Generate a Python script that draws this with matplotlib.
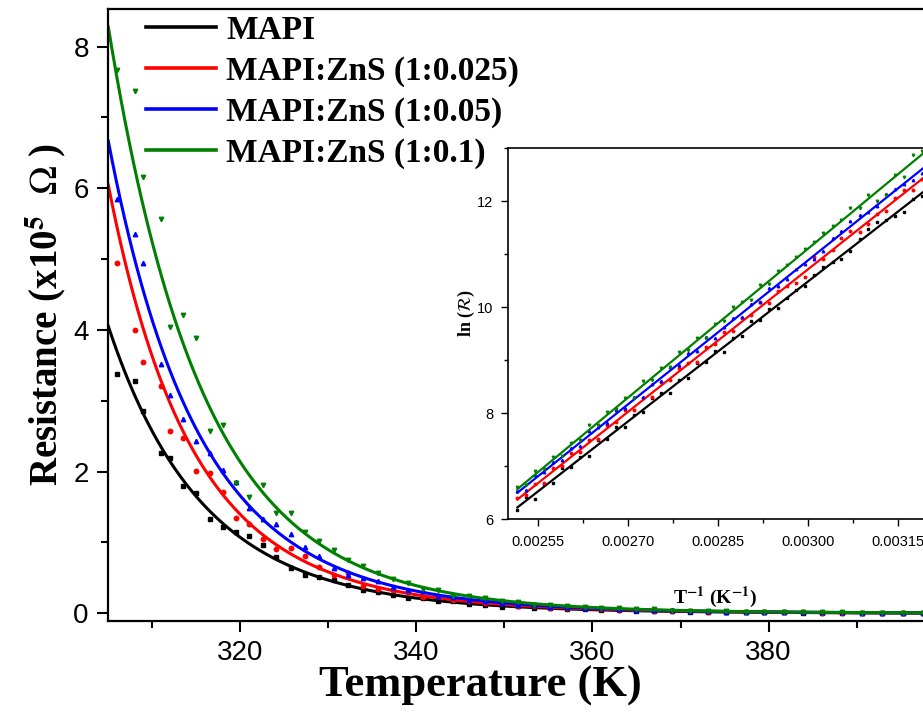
import numpy as np
import matplotlib
matplotlib.use("Agg")
import matplotlib.pyplot as plt
from matplotlib.ticker import MultipleLocator
from numpy.polynomial import Polynomial

plt.rcParams['mathtext.fontset'] = 'stix'

# temperatures of the measurements (K); 305 K only anchors the fitted curves
temps = [305, 306, 308, 309, 311, 312, 313.5, 315, 316.5, 318, 319.5, 321, 322.6,
         324.1, 325.7, 327.3, 328.9, 330.6, 332.2, 333.9, 335.6, 337.3, 339.0,
         340.7, 342.5, 344.2, 346.0, 347.8, 349.7, 351.5, 353.4, 355.2, 357.1,
         359.1, 361.0, 363.0, 365.0, 367.0, 369.0, 371.1, 373.1, 375.2, 377.4,
         379.5, 381.7, 383.9, 386.1, 388.3, 390.6, 392.9, 395.3, 397.6]

# ln(R / ohm) for each sample
ln_mapi = [12.94, 12.73, 12.70, 12.56, 12.33, 12.30, 12.10, 12.04, 11.80, 11.71,
           11.65, 11.60, 11.47, 11.28, 11.06, 10.90, 10.85, 10.76, 10.60, 10.40,
           10.32, 10.17, 9.99, 9.97, 9.75, 9.73, 9.45, 9.41, 9.16, 9.18, 8.97,
           8.94, 8.67, 8.63, 8.39, 8.38, 8.29, 8.02, 7.96, 7.74, 7.74, 7.52, 7.50,
           7.20, 7.17, 6.98, 6.97, 6.69, 6.66, 6.38, 6.42, 6.18]
ln_zns025 = [13.78, 13.11, 12.90, 12.78, 12.68, 12.46, 12.42, 12.21, 12.20, 12.05,
             11.81, 11.75, 11.56, 11.41, 11.43, 11.30, 11.08, 10.90, 10.95, 10.57,
             10.46, 10.40, 10.31, 10.07, 10.09, 9.85, 9.79, 9.55, 9.54, 9.30, 9.24,
             8.97, 8.95, 8.86, 8.62, 8.58, 8.30, 8.28, 8.06, 8.07, 7.83, 7.77, 7.51,
             7.49, 7.26, 7.25, 7.01, 6.97, 6.68, 6.66, 6.46, 6.40]
ln_zns05 = [13.45, 13.28, 13.19, 13.11, 12.77, 12.64, 12.52, 12.40, 12.33, 12.22,
            12.13, 11.91, 11.80, 11.74, 11.62, 11.44, 11.30, 11.06, 10.90, 10.82,
            10.72, 10.53, 10.39, 10.36, 10.09, 10.06, 9.81, 9.80, 9.63, 9.41, 9.43,
            9.17, 9.13, 8.91, 8.88, 8.60, 8.56, 8.30, 8.31, 8.09, 8.06, 7.81, 7.74,
            7.66, 7.39, 7.35, 7.11, 7.09, 6.89, 6.83, 6.55, 6.54]
ln_zns1 = [13.35, 13.55, 13.51, 13.33, 13.23, 12.91, 12.95, 12.87, 12.46, 12.49,
           12.12, 12.01, 12.11, 11.86, 11.86, 11.65, 11.53, 11.40, 11.22, 11.10,
           10.95, 10.80, 10.68, 10.44, 10.42, 10.13, 10.09, 10.01, 9.73, 9.68,
           9.42, 9.42, 9.20, 9.15, 8.88, 8.85, 8.63, 8.60, 8.29, 8.28, 8.08, 8.03,
           7.77, 7.77, 7.50, 7.43, 7.19, 7.18, 6.95, 6.92, 6.65, 6.61]

labels = ['MAPI', 'MAPI:ZnS (1:0.025)', 'MAPI:ZnS (1:0.05)', 'MAPI:ZnS (1:0.1)']
colors = ['black', '#ff0000', '#0000ff', '#008000']
markers = ['s', 'o', '^', 'v']
series = [ln_mapi, ln_zns025, ln_zns05, ln_zns1]

serif = 'Liberation Serif'
sans = 'Liberation Sans'

T = np.array(temps)
invT = 1.0 / T
shown = T > 305

fig = plt.figure(figsize=(9.23, 7.17), dpi=100)
ax = fig.add_axes([0.1173, 0.1343, 0.888, 0.8531])

Tfine = np.linspace(T.min(), 398.1, 400)
handles = []
for lnr, c, m, lab in zip(series, colors, markers, labels):
    y = np.array(lnr)
    R = np.exp(y) / 1e5
    ax.plot(T[shown], R[shown], ls='none', marker=m, ms=3.2, color=c, mec=c)
    fit = Polynomial.fit(T, y, 3)
    h, = ax.plot(Tfine, np.exp(fit(Tfine)) / 1e5, color=c, lw=2.2, label=lab)
    handles.append(h)

ax.set_xlim(305, 398.1)
ax.set_ylim(-0.104, 8.53)
ax.xaxis.set_major_locator(MultipleLocator(20))
ax.xaxis.set_minor_locator(MultipleLocator(10))
ax.yaxis.set_major_locator(MultipleLocator(2))
ax.yaxis.set_minor_locator(MultipleLocator(1))
ax.tick_params(which='both', direction='out', width=1.5, labelsize=20, pad=6)
ax.tick_params(which='major', length=8)
ax.tick_params(which='minor', length=5)
for lab in ax.get_xticklabels() + ax.get_yticklabels():
    lab.set_fontfamily(sans)
for s in ax.spines.values():
    s.set_linewidth(1.6)
ax.set_xlabel('Temperature (K)', fontfamily=serif, fontweight='bold', fontsize=32)
ax.xaxis.set_label_coords(0.4535, -0.074)
ax.set_ylabel(r'Resistance (x10$^{\mathbf{5}}$  $\Omega$ )', fontfamily=serif,
              fontweight='bold', fontsize=28, labelpad=4)

leg = ax.legend(handles=handles, loc='upper left', bbox_to_anchor=(0.01, 1.04),
                frameon=False, handlelength=2.1, handletextpad=0.3, labelspacing=0.3,
                prop={'family': serif, 'weight': 'bold', 'size': 24})
for ln in leg.get_lines():
    ln.set_linewidth(2.6)

# inset: ln R against 1/T with linear fits
ins = fig.add_axes([0.5507, 0.2757, 0.4547, 0.5179])
for lnr, c, m in zip(series, colors, markers):
    y = np.array(lnr)
    ins.plot(invT, y, ls='none', marker=m, ms=1.8, color=c, mec=c)
    sel = T >= 313
    p = np.polyfit(invT[sel], y[sel], 1)
    xs = np.array([invT[sel].min(), 0.0032])
    ins.plot(xs, np.polyval(p, xs), color=c, lw=1.6)
ins.set_xlim(0.0025, 0.0031995)
ins.set_ylim(6, 13.0)
ins.xaxis.set_major_locator(MultipleLocator(0.00015))
ins.xaxis.set_minor_locator(MultipleLocator(0.000075))
ins.yaxis.set_major_locator(MultipleLocator(2))
ins.yaxis.set_minor_locator(MultipleLocator(1))
ins.xaxis.set_major_formatter(plt.FormatStrFormatter('%.5f'))
ins.tick_params(which='both', direction='out', width=1.0, labelsize=10.5, pad=6)
ins.tick_params(which='major', length=5)
ins.tick_params(which='minor', length=3)
for lab in ins.get_xticklabels() + ins.get_yticklabels():
    lab.set_fontfamily(sans)
for s in ins.spines.values():
    s.set_linewidth(1.2)
ins.set_xlabel(r'T$^{\mathbf{-1}}$ (K$^{\mathbf{-1}}$)', fontfamily=serif, fontweight='bold',
               fontsize=14)
ins.xaxis.set_label_coords(0.4925, -0.175)
ins.set_ylabel(r'ln ($\mathcal{R}$)', fontfamily=serif, fontweight='bold', fontsize=13)
ins.yaxis.set_label_coords(-0.075, 0.556)

fig.savefig('out.png', dpi=100)
